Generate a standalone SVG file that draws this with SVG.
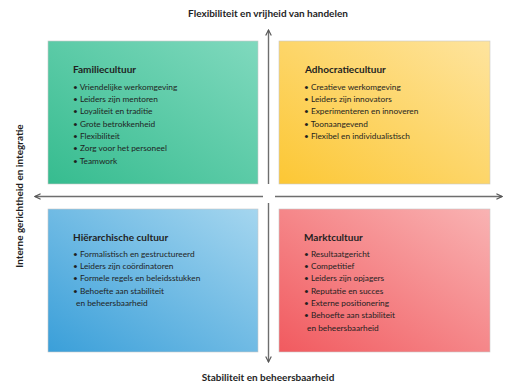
<svg xmlns="http://www.w3.org/2000/svg" width="515" height="383" viewBox="0 0 515 383">
  <style>
    text { font-family: "Lato", "Liberation Sans", sans-serif; fill: #1f1f1f; }
    .axis { font-size: 10px; font-weight: 700; }
    .title { font-size: 10px; font-weight: 700; }
    .item { font-size: 8.3px; }
    .line { stroke: #6e6e6e; stroke-width: 1.4; fill: none; }
    .box { stroke: #c8c8c8; stroke-width: 0.6; }
  </style>
  <defs>
    <marker id="arrow" viewBox="0 0 10 10" refX="9" refY="5" markerWidth="7" markerHeight="7" orient="auto" markerUnits="userSpaceOnUse">
      <path d="M1,1 L9,5 L1,9" fill="none" stroke="#555" stroke-width="1.6"/>
    </marker>
    <linearGradient id="gGreen" x1="0" y1="1" x2="1" y2="0">
      <stop offset="0" stop-color="#36bc8f"/>
      <stop offset="1" stop-color="#80d9be"/>
    </linearGradient>
    <linearGradient id="gYellow" x1="0" y1="1" x2="1" y2="0">
      <stop offset="0" stop-color="#fcc734"/>
      <stop offset="1" stop-color="#fee49e"/>
    </linearGradient>
    <linearGradient id="gBlue" x1="0" y1="1" x2="1" y2="0">
      <stop offset="0" stop-color="#3a9fd9"/>
      <stop offset="1" stop-color="#a5d6ef"/>
    </linearGradient>
    <linearGradient id="gRed" x1="0" y1="1" x2="1" y2="0">
      <stop offset="0" stop-color="#f15a5f"/>
      <stop offset="1" stop-color="#f9b3b3"/>
    </linearGradient>
  </defs>

  <rect width="515" height="383" fill="#ffffff"/>

  <!-- axis labels -->
  <text class="axis" x="268" y="17" text-anchor="middle">Flexibiliteit en vrijheid van handelen</text>
  <text class="axis" x="268" y="381" text-anchor="middle">Stabiliteit en beheersbaarheid</text>
  <text class="axis" transform="translate(23,196) rotate(-90)" text-anchor="middle">Interne gerichtheid en integratie</text>

  <!-- axes -->
  <g id="connectors">
    <line class="line" x1="268.5" y1="184" x2="268.5" y2="30" marker-end="url(#arrow)"/>
    <line class="line" x1="268.5" y1="203" x2="268.5" y2="362" marker-end="url(#arrow)"/>
    <line class="line" x1="263" y1="196.5" x2="35" y2="196.5" marker-end="url(#arrow)"/>
    <line class="line" x1="275" y1="196.5" x2="502" y2="196.5" marker-end="url(#arrow)"/>
  </g>

  <!-- quadrant: family culture -->
  <g id="familiecultuur">
    <rect class="box" x="48" y="41" width="210" height="143" fill="url(#gGreen)"/>
    <text class="title" x="73" y="73">Familiecultuur</text>
    <text class="item" x="73" y="90">• Vriendelijke werkomgeving</text>
    <text class="item" x="73" y="102">• Leiders zijn mentoren</text>
    <text class="item" x="73" y="114">• Loyaliteit en traditie</text>
    <text class="item" x="73" y="126.5">• Grote betrokkenheid</text>
    <text class="item" x="73" y="138.5">• Flexibiliteit</text>
    <text class="item" x="73" y="151">• Zorg voor het personeel</text>
    <text class="item" x="73" y="163.5">• Teamwork</text>
  </g>

  <!-- quadrant: adhocracy culture -->
  <g id="adhocratiecultuur">
    <rect class="box" x="279" y="41" width="211" height="143" fill="url(#gYellow)"/>
    <text class="title" x="305" y="73">Adhocratiecultuur</text>
    <text class="item" x="304" y="90">• Creatieve werkomgeving</text>
    <text class="item" x="304" y="102">• Leiders zijn innovators</text>
    <text class="item" x="304" y="114">• Experimenteren en innoveren</text>
    <text class="item" x="304" y="126.5">• Toonaangevend</text>
    <text class="item" x="304" y="138.5">• Flexibel en individualistisch</text>
  </g>

  <!-- quadrant: hierarchy culture -->
  <g id="hierarchische-cultuur">
    <rect class="box" x="48" y="209" width="210" height="143" fill="url(#gBlue)"/>
    <text class="title" x="73" y="241">Hiërarchische cultuur</text>
    <text class="item" x="73" y="256.5">• Formalistisch en gestructureerd</text>
    <text class="item" x="73" y="268.5">• Leiders zijn coördinatoren</text>
    <text class="item" x="73" y="281">• Formele regels en beleidsstukken</text>
    <text class="item" x="73" y="293.5">• Behoefte aan stabiliteit</text>
    <text class="item" x="76" y="305.5">en beheersbaarheid</text>
  </g>

  <!-- quadrant: market culture -->
  <g id="marktcultuur">
    <rect class="box" x="279" y="209" width="211" height="143" fill="url(#gRed)"/>
    <text class="title" x="304" y="241">Marktcultuur</text>
    <text class="item" x="304" y="256.5">• Resultaatgericht</text>
    <text class="item" x="304" y="268.5">• Competitief</text>
    <text class="item" x="304" y="281">• Leiders zijn opjagers</text>
    <text class="item" x="304" y="293.5">• Reputatie en succes</text>
    <text class="item" x="304" y="305.5">• Externe positionering</text>
    <text class="item" x="304" y="318">• Behoefte aan stabiliteit</text>
    <text class="item" x="307" y="330.5">en beheersbaarheid</text>
  </g>
</svg>
